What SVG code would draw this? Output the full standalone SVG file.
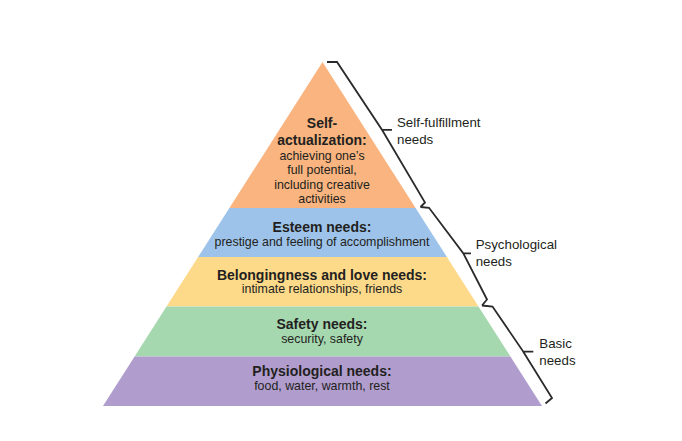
<svg xmlns="http://www.w3.org/2000/svg" width="682" height="441" viewBox="0 0 682 441">
<style>
  .b{font-family:"Liberation Sans",Arial,sans-serif;font-weight:bold;font-size:14px;fill:#231f20;text-anchor:middle}
  .n{font-family:"Liberation Sans",Arial,sans-serif;font-size:12.4px;fill:#231f20;text-anchor:middle}
  .lab{font-family:"Liberation Sans",Arial,sans-serif;font-size:13.3px;fill:#231f20}
  .br{fill:none;stroke:#2a2a2a;stroke-width:1.8;stroke-linejoin:miter}
</style>
<rect width="682" height="441" fill="#ffffff"/>
<g id="self-actualization">
  <polygon points="322.5,62 415.6,208 229.4,208" fill="#f9b47f"/>
  <text class="b" x="322" y="128.3">Self-</text>
  <text class="b" x="322" y="145">actualization:</text>
  <text class="n" x="322" y="160">achieving one’s</text>
  <text class="n" x="322" y="174.3">full potential,</text>
  <text class="n" x="322" y="188.5">including creative</text>
  <text class="n" x="322" y="202.7">activities</text>
</g>
<g id="esteem">
  <polygon points="229.4,208 415.6,208 446.9,257 198.1,257" fill="#9dc3ea"/>
  <text class="b" x="322" y="232.3">Esteem needs:</text>
  <text class="n" x="322" y="245.5">prestige and feeling of accomplishment</text>
</g>
<g id="belongingness">
  <polygon points="198.1,257 446.9,257 478.5,306.5 166.5,306.5" fill="#fdd98a"/>
  <text class="b" x="322" y="280">Belongingness and love needs:</text>
  <text class="n" x="322" y="292.7">intimate relationships, friends</text>
</g>
<g id="safety">
  <polygon points="166.5,306.5 478.5,306.5 510.4,356.5 134.6,356.5" fill="#a6d8b0"/>
  <text class="b" x="322" y="329.3">Safety needs:</text>
  <text class="n" x="322" y="343.3">security, safety</text>
</g>
<g id="physiological">
  <polygon points="134.6,356.5 510.4,356.5 542,406 103,406" fill="#b09dcd"/>
  <text class="b" x="322" y="376">Physiological needs:</text>
  <text class="n" x="322" y="390">food, water, warmth, rest</text>
</g>
<g id="connectors">
  <path class="br" d="M327 62 H337 L382 129.8 H392 M382 129.8 L425 202.5 L420.5 207"/>
  <path class="br" d="M420.5 207 L429 207.8 L463.3 253.3 H471 M463.3 253.3 L487 299.5 L482 305.5"/>
  <path class="br" d="M482 305.5 L492.5 306.5 L523.3 351.7 H533.3 M523.3 351.7 L552 398 L545.5 403.5"/>
</g>
<g id="label-self-fulfillment">
  <text class="lab" x="397" y="127.3">Self-fulfillment</text>
  <text class="lab" x="397" y="144">needs</text>
</g>
<g id="label-psychological">
  <text class="lab" x="475.7" y="249">Psychological</text>
  <text class="lab" x="475.7" y="265.8">needs</text>
</g>
<g id="label-basic">
  <text class="lab" x="539.3" y="348.3">Basic</text>
  <text class="lab" x="539.3" y="365">needs</text>
</g>
</svg>
